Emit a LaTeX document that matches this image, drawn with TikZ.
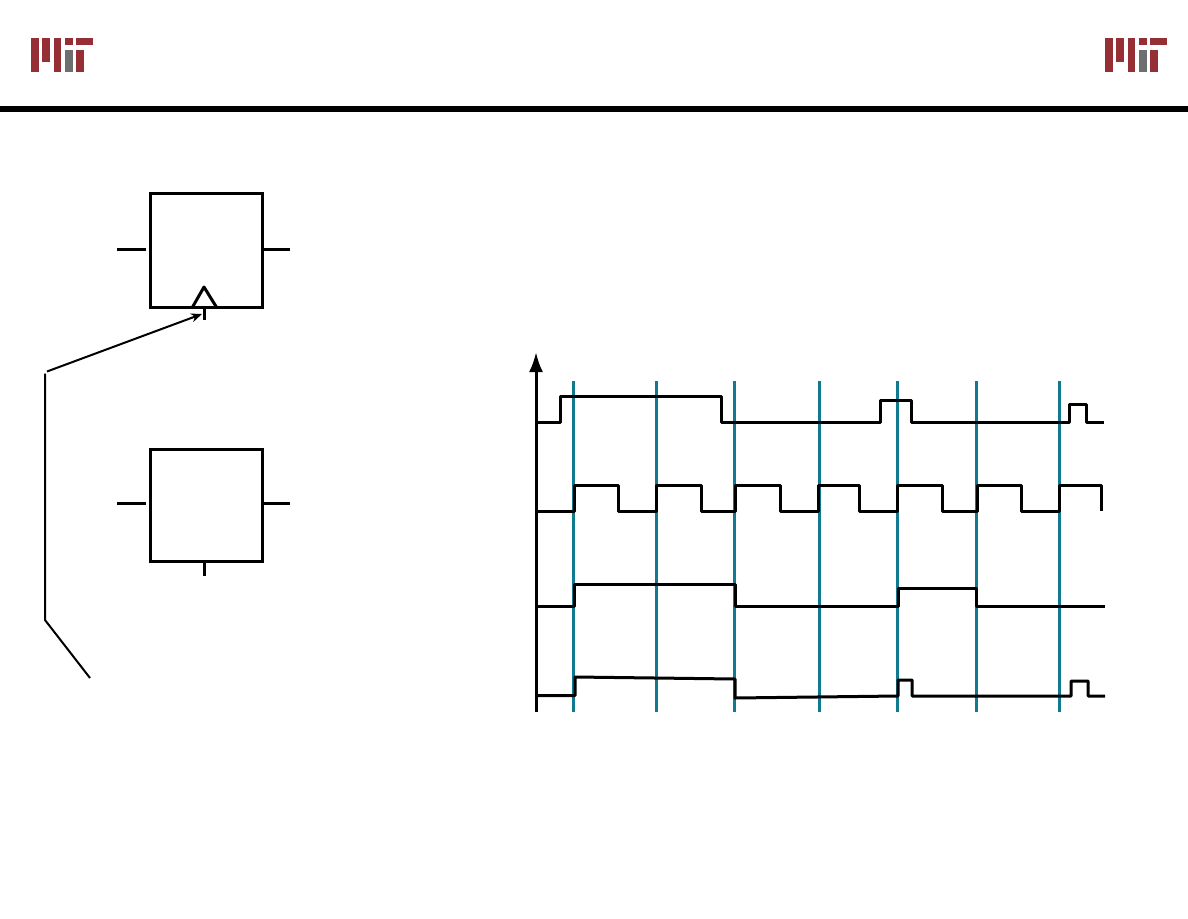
\documentclass[tikz,border=0pt]{standalone}
\usetikzlibrary{arrows.meta}
\definecolor{mitred}{HTML}{952F35}
\definecolor{mitgray}{HTML}{6D6E70}
\definecolor{clockteal}{HTML}{127A90}
\begin{document}
\begin{tikzpicture}[x=1pt, y=-1pt, node distance=255pt,
		main/.style = {draw,rectangle,line width=3pt,minimum width=112pt,minimum height=114pt,inner sep=0pt,outer sep=0pt},
		wire/.style = {line width=3pt},
		wave/.style = {line width=3pt,line join=round},
		clockline/.style = {color=clockteal,line width=3pt},
		thin wire/.style = {line width=2pt}]
		\useasboundingbox (0,0) rectangle (1188,918);
		
		%Logos in the header
		\foreach \o in {0,1074} {
			\fill[mitred] (\o+31,38.3) rectangle (\o+38.6,71.7);
			\fill[mitred] (\o+42.4,38.3) rectangle (\o+50,61.7);
			\fill[mitred] (\o+53.7,38.3) rectangle (\o+61.3,71.7);
			\fill[mitred] (\o+65,38.3) rectangle (\o+72.6,45.3);
			\fill[mitgray] (\o+65,50) rectangle (\o+72.6,71.7);
			\fill[mitred] (\o+76.4,38.3) rectangle (\o+92.6,45.3);
			\fill[mitred] (\o+76.4,50) rectangle (\o+83.6,71.7);
		}
		\fill (0,106) rectangle (1188,112); %Header rule
		
		%Two boxes on the left
		\node[main] (1) at (206.5,250.6) {};
		\node[main,minimum height=112pt] (2) [below of=1] {};
		
		%Free ends of the stubs
		\coordinate (d1) at (117,249);
		\coordinate (e1) at (146,249);
		\coordinate (q1) at (290,249);
		\coordinate (c1) at (204,320);
		\coordinate (d2) at (117,503.3);
		\coordinate (e2) at (146,503.3);
		\coordinate (q2) at (290,503.3);
		\coordinate (c2) at (204,576);
		
		\draw[wire] (d1) -- (e1); %Stub in, top box
		\draw[wire] (1.east |- q1) -- (q1); %Stub out, top box
		\draw[wire] (c1 |- 1.south) -- (c1); %Clock stub, top box
		\draw[wire] (d2) -- (e2); %Stub in, bottom box
		\draw[wire] (2.east |- q2) -- (q2); %Stub out, bottom box
		\draw[wire] (c2 |- 2.south) -- (c2); %Stub below bottom box
		
		%Clock triangle
		\draw[wire,line join=round] (192,308) -- (204,287) -- (217,308);
		
		%Pointer from the free corner
		\coordinate (p0) at (90,678);
		\coordinate (p1) at (45,620);
		\coordinate (p2) at (45,373.5);
		\coordinate (p3) at (47,371.5);
		\coordinate (p4) at (202,314);
		\draw[thin wire] (p0) -- (p1) -- (p2);
		\draw[thin wire,-{Stealth[length=11pt,width=9pt]}] (p3) -- (p4);
		
		%Clock edges
		\foreach \x in {573.5,656,734.5,819,897.5,976.5,1059}
			\draw[clockline] (\x,381) -- (\x,712);
		
		%Axis
		\coordinate (a0) at (536,712);
		\coordinate (a1) at (536,353);
		\draw[line width=3pt,-{Latex[length=20pt,width=14pt,sep=-1pt]}] (a0) -- (a1);
		
		%Waveforms
		\draw[wave] (536,422) -- (560,422) -- (560,396) -- (721,396) -- (721,422) -- (880,422) -- (880,400) -- (911,400) -- (911,422) -- (1069,422) -- (1069,404) -- (1086,404) -- (1086,422) -- (1104,422);
		\draw[wave] (536,511) -- (574,511) -- (574,485) -- (618,485) -- (618,511) -- (656,511) -- (656,485) -- (701,485) -- (701,511) -- (735,511) -- (735,485) -- (780,485) -- (780,511) -- (818,511) -- (818,485) -- (859,485) -- (859,511) -- (897,511) -- (897,485) -- (942,485) -- (942,511) -- (977,511) -- (977,485) -- (1021,485) -- (1021,511) -- (1059,511) -- (1059,485) -- (1101,485) -- (1101,511);
		\draw[wave] (536,606) -- (574,606) -- (574,584) -- (735,584) -- (735,606) -- (898,606) -- (898,588) -- (976,588) -- (976,606) -- (1105,606);
		\draw[wave] (536,695.5) -- (575,695.5) -- (575,677) -- (735,679) -- (735,698) -- (898,696) -- (898,680) -- (912,680) -- (912,696) -- (1071,696) -- (1071,681) -- (1088,681) -- (1088,696) -- (1105,696);
	\end{tikzpicture}
\end{document}
